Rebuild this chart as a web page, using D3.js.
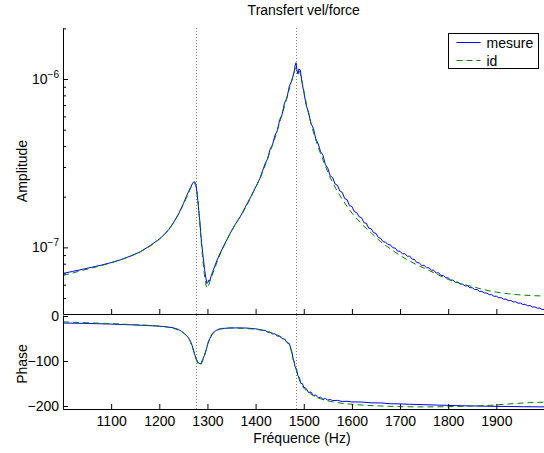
<!DOCTYPE html>
<html>
<head>
<meta charset="utf-8">
<script src="https://cdn.jsdelivr.net/npm/d3@7"></script>
<style>
  body { margin: 0; background: #fff; }
  svg text { font-family: "Liberation Sans", Arial, sans-serif; }
</style>
</head>
<body>
<div id="chart-area"></div>
<script>
// Transfert vel/force : mesure vs id, amplitude (log) + phase

// [frequence (Hz), amplitude]
const ampMesure = [
  [1000,7.0e-8],[1020,7.2e-8],[1040,7.4e-8],[1060,7.62e-8],[1080,7.85e-8],[1100,8.12e-8],
  [1120,8.45e-8],[1140,8.88e-8],[1160,9.4e-8],[1180,1.02e-7],[1200,1.12e-7],[1210,1.19e-7],
  [1220,1.28e-7],[1230,1.41e-7],[1240,1.58e-7],[1250,1.82e-7],[1256,2.0e-7],[1261,2.15e-7],
  [1266,2.3e-7],[1269,2.4e-7],[1272,2.46e-7],[1274,2.44e-7],[1276,2.36e-7],[1278,2.15e-7],
  [1280,1.9e-7],[1282,1.65e-7],[1284,1.45e-7],[1286,1.22e-7],[1288,1.05e-7],[1291,8.8e-8],
  [1294,7.4e-8],[1297,6.5e-8],[1299,6.1e-8],[1301,6.2e-8],[1303,6.4e-8],[1305,6.35e-8],
  [1308,6.8e-8],[1312,7.3e-8],[1316,7.85e-8],[1320,8.4e-8],[1326,9.2e-8],[1336,1.05e-7],
  [1347,1.21e-7],[1357,1.36e-7],[1368,1.52e-7],[1378,1.72e-7],[1388,1.95e-7],[1398,2.22e-7],
  [1404,2.4e-7],[1409,2.57e-7],[1415,2.88e-7],
  [1420,3.15e-7],[1425,3.36e-7],[1430,3.82e-7],[1435,4.05e-7],[1440,4.62e-7],[1445,4.93e-7],
  [1450,5.72e-7],[1455,6.15e-7],[1460,7.2e-7],[1465,7.7e-7],[1470,9.05e-7],[1475,9.75e-7],
  [1480,1.1e-6],[1482,1.2e-6],[1484,1.25e-6],[1486,1.12e-6],[1488,1.07e-6],[1490,1.15e-6],
  [1493,1.13e-6],[1496,9.7e-7],[1500,8.4e-7],[1505,7.0e-7],[1510,6.35e-7],[1515,5.45e-7],
  [1520,5.08e-7],[1525,4.42e-7],[1530,4.12e-7],[1535,3.7e-7],[1540,3.52e-7],[1545,3.1e-7],
  [1550,2.95e-7],[1555,2.66e-7],[1560,2.6e-7],[1565,2.38e-7],[1570,2.34e-7],[1575,2.16e-7],
  [1580,2.12e-7],[1585,1.95e-7],[1590,1.92e-7],[1595,1.77e-7],[1600,1.75e-7],[1605,1.63e-7],
  [1610,1.61e-7],[1615,1.52e-7],[1620,1.5e-7],[1625,1.4e-7],[1630,1.39e-7],[1635,1.3e-7],
  [1640,1.29e-7],[1645,1.225e-7],[1650,1.21e-7],[1655,1.145e-7],[1660,1.13e-7],[1665,1.08e-7],
  [1670,1.075e-7],[1675,1.04e-7],[1680,1.035e-7],[1685,9.95e-8],[1690,9.9e-8],[1695,9.5e-8],
  [1700,9.48e-8],[1705,9.15e-8],[1710,9.18e-8],[1715,8.85e-8],[1720,8.88e-8],[1725,8.52e-8],
  [1730,8.47e-8],[1735,8.12e-8],[1740,8.08e-8],[1745,7.82e-8],[1750,7.81e-8],[1755,7.58e-8],
  [1760,7.56e-8],[1765,7.33e-8],[1770,7.31e-8],[1775,7.04e-8],[1780,7.06e-8],[1785,6.8e-8],
  [1790,6.82e-8],[1795,6.6e-8],[1800,6.59e-8],[1805,6.4e-8],[1810,6.39e-8],[1815,6.2e-8],
  [1820,6.22e-8],[1825,6.06e-8],[1830,6.05e-8],[1835,5.9e-8],[1840,5.92e-8],[1845,5.76e-8],
  [1850,5.76e-8],[1855,5.61e-8],[1860,5.62e-8],[1865,5.47e-8],[1870,5.48e-8],[1875,5.36e-8],
  [1880,5.36e-8],[1885,5.24e-8],[1890,5.24e-8],[1895,5.12e-8],[1900,5.13e-8],[1905,5.02e-8],
  [1910,5.03e-8],[1915,4.92e-8],[1920,4.93e-8],[1925,4.83e-8],[1930,4.84e-8],[1935,4.74e-8],
  [1940,4.75e-8],[1945,4.66e-8],[1950,4.67e-8],[1955,4.58e-8],[1960,4.59e-8],[1965,4.5e-8],
  [1970,4.51e-8],[1975,4.42e-8],[1980,4.43e-8],[1985,4.35e-8],[1990,4.36e-8],[1995,4.28e-8],
  [2000,4.27e-8]
]

const ampId = [
  [1000,6.8e-8],[1040,7.3e-8],[1080,7.8e-8],[1120,8.45e-8],[1160,9.4e-8],[1200,1.12e-7],
  [1220,1.28e-7],[1240,1.58e-7],[1250,1.8e-7],[1260,2.08e-7],[1266,2.28e-7],[1272,2.42e-7],
  [1276,2.3e-7],[1280,1.95e-7],[1284,1.4e-7],[1288,1.0e-7],[1292,7.6e-8],[1296,6.2e-8],
  [1299,5.75e-8],[1302,5.9e-8],[1306,6.4e-8],[1312,7.1e-8],[1320,8.2e-8],[1330,9.6e-8],
  [1340,1.1e-7],[1350,1.25e-7],[1360,1.4e-7],[1370,1.55e-7],[1380,1.74e-7],[1390,1.98e-7],
  [1400,2.27e-7],[1410,2.6e-7],[1420,3.08e-7],[1430,3.7e-7],[1440,4.45e-7],[1450,5.5e-7],
  [1460,6.9e-7],[1470,8.7e-7],[1478,1.05e-6],[1484,1.17e-6],[1490,1.13e-6],[1496,9.8e-7],
  [1502,8.0e-7],[1510,6.2e-7],[1520,4.85e-7],[1530,3.95e-7],[1540,3.3e-7],[1550,2.8e-7],
  [1560,2.43e-7],[1570,2.15e-7],[1580,1.93e-7],[1590,1.75e-7],[1600,1.6e-7],[1620,1.38e-7],
  [1640,1.22e-7],[1660,1.08e-7],[1680,9.8e-8],[1700,8.95e-8],[1720,8.3e-8],[1740,7.75e-8],
  [1760,7.3e-8],[1780,6.85e-8],[1800,6.45e-8],[1825,6.1e-8],[1850,5.85e-8],[1875,5.6e-8],
  [1900,5.42e-8],[1925,5.3e-8],[1950,5.22e-8],[1975,5.17e-8],[2000,5.14e-8]
]

// [frequence (Hz), phase (deg)]
const phaseMesure = [
  [1000,-15.6],[1050,-16.5],[1100,-18],[1150,-20],[1194,-22.2],[1210,-23.5],[1228,-26],
  [1240,-30],[1246,-34],[1252,-39],[1257,-44],[1261,-49],[1265,-57],[1268,-65],[1271,-76],
  [1274,-87],[1277,-96],[1280,-102],[1283,-105.5],[1285,-106],[1287,-104],[1290,-97],
  [1294,-87],[1298,-73],[1301,-61],[1305,-50],[1311,-39],[1318,-32],[1325,-29.6],[1335,-27.5],
  [1346,-26.7],[1360,-26.5],[1380,-26.7],[1400,-28.5],[1410,-30.5],[1415,-31.9],
  [1420,-32],[1425,-36],[1430,-36],[1435,-40],[1440,-39.5],[1445,-44.5],[1450,-45],
  [1455,-50.5],[1460,-51],[1465,-59],[1470,-61],[1473,-72],[1476,-83],[1478,-97],[1480,-101],
  [1482,-113],[1485,-118],[1488,-133],[1491,-137],[1494,-150],[1497,-150],[1500,-158],
  [1505,-161],[1510,-170],[1515,-169],[1520,-177],[1525,-175.5],[1530,-182],[1535,-180.5],
  [1540,-185],[1545,-183.5],[1550,-187],[1555,-185.5],[1560,-188],[1570,-187.5],[1580,-190],
  [1590,-189.5],[1600,-191],[1620,-191.2],[1640,-193],[1660,-193.2],[1680,-195],[1700,-195.4],
  [1720,-196.2],[1748,-197],[1780,-198.1],[1818,-199.2],[1850,-199.9],[1887,-200.7],
  [1920,-201],[1956,-201.6],[2000,-202]
]

const phaseId = [
  [1000,-13],[1050,-15],[1100,-17],[1150,-19.5],[1200,-22.5],[1228,-27],[1246,-35],[1256,-43],
  [1263,-54],[1270,-74],[1277,-98],[1281,-107],[1284,-109.6],[1287,-107],[1290,-100],
  [1293,-91],[1296,-80],[1299,-68],[1302,-57],[1306,-46],[1310,-39],[1320,-30.5],[1335,-27],
  [1350,-26.5],[1380,-28],[1400,-29.5],[1420,-33],[1440,-40],[1455,-48],[1465,-57],[1472,-70],
  [1478,-94],[1485,-122],[1492,-145],[1500,-160],[1510,-170],[1520,-177],[1535,-184],
  [1561,-191],[1610,-197],[1679,-200.7],[1748,-202],[1800,-201.5],[1850,-200],[1887,-198.5],
  [1920,-196],[1956,-193.3],[2000,-191.5]
]

const freqTicks = [1100, 1200, 1300, 1400, 1500, 1600, 1700, 1800, 1900]
const ampMajorTicks = [1e-7, 1e-6]
const ampMinorTicks = [5e-8, 6e-8, 7e-8, 8e-8, 9e-8, 2e-7, 3e-7, 4e-7, 5e-7, 6e-7, 7e-7, 8e-7, 9e-7, 2e-6]
const phaseTicks = [0, -100, -200]
const resonances = [1276, 1483]   // lignes pointillées
const seriesNames = ["mesure", "id"]

const WIDTH = 544
const HEIGHT = 453
const LEFT = 63
const RIGHT = 544.5
const AMP_TOP = 28
const AMP_BOTTOM = 314
const PH_TOP = 315
const PH_BOTTOM = 409
const FONT = 14
const BLUE = "#0000ff"
const GREEN = "#008000"

const svg = d3.select("#chart-area").append("svg")
  .attr("width", WIDTH)
  .attr("height", HEIGHT)

const x = d3.scaleLinear().domain([1000, 2000]).range([LEFT, RIGHT])
const yAmp = d3.scaleLog().domain([4.02e-8, 2.01e-6]).range([AMP_BOTTOM, AMP_TOP])
const yPh = d3.scaleLinear().domain([-206.7, 2.2]).range([PH_BOTTOM, PH_TOP])

svg.append("clipPath").attr("id", "clip-amp")
  .append("rect").attr("x", LEFT).attr("y", AMP_TOP).attr("width", RIGHT - LEFT).attr("height", AMP_BOTTOM - AMP_TOP)
svg.append("clipPath").attr("id", "clip-ph")
  .append("rect").attr("x", LEFT).attr("y", PH_TOP).attr("width", RIGHT - LEFT).attr("height", PH_BOTTOM - PH_TOP)

// dotted resonance lines
resonances.forEach(f => {
  [[AMP_TOP, AMP_BOTTOM], [PH_TOP, PH_BOTTOM]].forEach(([a, b]) => {
    svg.append("line")
      .attr("x1", Math.round(x(f)) + 0.5).attr("x2", Math.round(x(f)) + 0.5)
      .attr("y1", a).attr("y2", b)
      .attr("stroke", "#808080")
      .attr("stroke-dasharray", "1,2")
  })
})

// curves : mesure en segments bruts, id lissé
const ampMesLine = d3.line().x(d => x(d[0])).y(d => yAmp(d[1]))
const ampIdLine = d3.line().x(d => x(d[0])).y(d => yAmp(d[1])).curve(d3.curveMonotoneX)
const phMesLine = d3.line().x(d => x(d[0])).y(d => yPh(d[1]))
const phIdLine = d3.line().x(d => x(d[0])).y(d => yPh(d[1])).curve(d3.curveMonotoneX)

const gAmp = svg.append("g").attr("clip-path", "url(#clip-amp)")
gAmp.append("path").datum(ampMesure).attr("d", ampMesLine)
  .attr("fill", "none").attr("stroke", BLUE).attr("stroke-width", 1)
gAmp.append("path").datum(ampId).attr("d", ampIdLine)
  .attr("fill", "none").attr("stroke", GREEN).attr("stroke-width", 1).attr("stroke-dasharray", "6,4")

const gPh = svg.append("g").attr("clip-path", "url(#clip-ph)")
gPh.append("path").datum(phaseMesure).attr("d", phMesLine)
  .attr("fill", "none").attr("stroke", BLUE).attr("stroke-width", 1)
gPh.append("path").datum(phaseId).attr("d", phIdLine)
  .attr("fill", "none").attr("stroke", GREEN).attr("stroke-width", 1).attr("stroke-dasharray", "6,4")

// axes - amplitude
svg.append("g")
  .attr("transform", `translate(0, ${AMP_BOTTOM})`)
  .call(d3.axisBottom(x).tickValues(freqTicks).tickSizeInner(-5).tickSizeOuter(0).tickFormat(""))

svg.append("g")
  .attr("transform", `translate(${LEFT}, 0)`)
  .call(d3.axisLeft(yAmp).tickValues(ampMajorTicks).tickSizeInner(-5).tickSizeOuter(0).tickFormat(""))

svg.append("g")
  .attr("transform", `translate(${LEFT}, 0)`)
  .call(d3.axisLeft(yAmp).tickValues(ampMinorTicks).tickSizeInner(-3).tickSizeOuter(0).tickFormat(""))
  .call(g => g.select(".domain").remove())

ampMajorTicks.forEach(v => {
  const t = svg.append("text")
    .attr("x", LEFT - 4)
    .attr("y", yAmp(v) + 5)
    .attr("text-anchor", "end")
    .attr("font-size", FONT)
    .attr("fill", "#000")
  t.append("tspan").text("10")
  t.append("tspan").attr("dy", -6).attr("font-size", 10).text("\u2212" + Math.round(-Math.log10(v)))
})

// axes - phase
svg.append("g")
  .attr("transform", `translate(0, ${PH_BOTTOM})`)
  .call(d3.axisBottom(x).tickValues(freqTicks).tickSizeInner(-5).tickSizeOuter(0).tickPadding(7).tickFormat(d3.format("d")))
  .attr("font-size", FONT)

svg.append("g")
  .attr("transform", `translate(${LEFT}, 0)`)
  .call(d3.axisLeft(yPh).tickValues(phaseTicks).tickSizeInner(-5).tickSizeOuter(0).tickPadding(4).tickFormat(d3.format("d")))
  .attr("font-size", FONT)

// labels
svg.append("text")
  .attr("x", (LEFT + RIGHT) / 2)
  .attr("y", 15)
  .attr("text-anchor", "middle")
  .attr("font-size", FONT)
  .text("Transfert vel/force")

svg.append("text")
  .attr("transform", `translate(27, ${(AMP_TOP + AMP_BOTTOM) / 2}) rotate(-90)`)
  .attr("text-anchor", "middle")
  .attr("font-size", FONT)
  .text("Amplitude")

svg.append("text")
  .attr("transform", `translate(27, ${(PH_TOP + PH_BOTTOM) / 2 + 2}) rotate(-90)`)
  .attr("text-anchor", "middle")
  .attr("font-size", FONT)
  .text("Phase")

svg.append("text")
  .attr("x", 302)
  .attr("y", 443)
  .attr("text-anchor", "middle")
  .attr("font-size", FONT)
  .text("Fréquence (Hz)")

// legend
const legend = svg.append("g").attr("transform", "translate(448.5, 33.5)")
legend.append("rect")
  .attr("width", 90).attr("height", 35)
  .attr("fill", "#fff").attr("stroke", "#000")
seriesNames.forEach((name, i) => {
  const yy = 9 + i * 18
  legend.append("line")
    .attr("x1", 8).attr("x2", 32).attr("y1", yy).attr("y2", yy)
    .attr("stroke", i === 0 ? BLUE : GREEN)
    .attr("stroke-dasharray", i === 0 ? null : "6,4")
  legend.append("text")
    .attr("x", 38).attr("y", yy + 5)
    .attr("font-size", FONT)
    .text(name)
})
</script>
</body>
</html>
